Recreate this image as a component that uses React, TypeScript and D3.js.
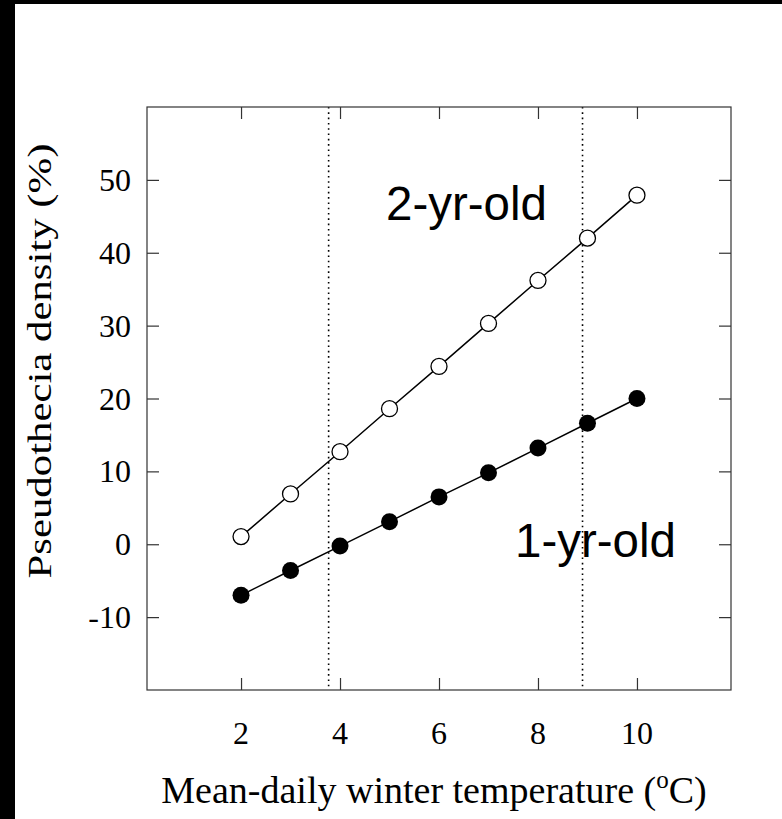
import { useEffect, useRef } from 'react';
import * as d3 from 'd3';

const temps = [2, 3, 4, 5, 6, 7, 8, 9, 10];
const twoYrOld = [1.05, 6.9, 12.7, 18.6, 24.4, 30.3, 36.2, 42.0, 47.9];
const oneYrOld = [-7.0, -3.6, -0.25, 3.1, 6.5, 9.8, 13.2, 16.6, 20.0];
const xTicks = [2, 4, 6, 8, 10];
const yTicks = [-10, 0, 10, 20, 30, 40, 50];
const cutoffs = [3.77, 8.9];

const W = 782;
const H = 819;

export default function App() {
  const svgRef = useRef<SVGSVGElement>(null);

  useEffect(() => {
    if (!svgRef.current) return;
    const svg = d3.select(svgRef.current);
    svg.selectAll('*').remove();

    const margin = { top: 107, right: 51, bottom: 129, left: 147 };
    const width = W - margin.left - margin.right;
    const height = H - margin.top - margin.bottom;

    // black strips from the scan edge
    svg.append('rect').attr('x', 0).attr('y', 0).attr('width', W).attr('height', H).attr('fill', 'white');
    svg.append('rect').attr('x', 0).attr('y', 0).attr('width', 15).attr('height', H).attr('fill', 'black');
    svg.append('rect').attr('x', 0).attr('y', 0).attr('width', W).attr('height', 4).attr('fill', 'black');

    const g = svg.append('g').attr('transform', `translate(${margin.left},${margin.top})`);

    const x = d3.scaleLinear().domain([0.1, 11.9]).range([0, width]);
    const y = d3.scaleLinear().domain([-20, 60]).range([height, 0]);

    const serif = '"Liberation Serif", "Times New Roman", serif';
    const axisColor = '#333';
    const tickLen = 12;

    // cutoff dotted lines
    g.selectAll('.cut')
      .data(cutoffs)
      .join('line')
      .attr('x1', d => x(d)).attr('x2', d => x(d))
      .attr('y1', 0).attr('y2', height)
      .attr('stroke', 'black')
      .attr('stroke-width', 1.6)
      .attr('stroke-dasharray', '1.6 3.7');

    // frame
    g.append('rect')
      .attr('width', width).attr('height', height)
      .attr('fill', 'none').attr('stroke', axisColor).attr('stroke-width', 1.2);

    // inward ticks, all four sides
    const bottom = g.append('g').attr('transform', `translate(0,${height})`)
      .call(d3.axisTop(x).tickValues(xTicks).tickSize(tickLen).tickFormat(() => ''));
    const top = g.append('g')
      .call(d3.axisBottom(x).tickValues(xTicks).tickSize(tickLen).tickFormat(() => ''));
    const left = g.append('g')
      .call(d3.axisRight(y).tickValues(yTicks).tickSize(tickLen).tickFormat(() => ''));
    const right = g.append('g').attr('transform', `translate(${width},0)`)
      .call(d3.axisLeft(y).tickValues(yTicks).tickSize(tickLen).tickFormat(() => ''));
    [bottom, top, left, right].forEach(a => {
      a.select('.domain').remove();
      a.selectAll('.tick line').attr('stroke', axisColor).attr('stroke-width', 1.2);
    });

    // tick labels
    g.selectAll('.xl')
      .data(xTicks)
      .join('text')
      .attr('x', d => x(d))
      .attr('y', height + 54)
      .attr('text-anchor', 'middle')
      .attr('font-family', serif)
      .attr('font-size', 32)
      .text(d => d);

    g.selectAll('.yl')
      .data(yTicks)
      .join('text')
      .attr('x', -16)
      .attr('y', d => y(d) + 11)
      .attr('text-anchor', 'end')
      .attr('font-family', serif)
      .attr('font-size', 32)
      .text(d => d);

    // series
    const line = d3.line<number>().x((_, i) => x(temps[i])).y(d => y(d));

    g.append('path').datum(twoYrOld)
      .attr('fill', 'none').attr('stroke', 'black').attr('stroke-width', 1.5).attr('d', line);
    g.append('path').datum(oneYrOld)
      .attr('fill', 'none').attr('stroke', 'black').attr('stroke-width', 1.5).attr('d', line);

    g.selectAll('.open')
      .data(twoYrOld)
      .join('circle')
      .attr('cx', (_, i) => x(temps[i]))
      .attr('cy', d => y(d))
      .attr('r', 8)
      .attr('fill', 'white')
      .attr('stroke', 'black')
      .attr('stroke-width', 1.3);

    g.selectAll('.filled')
      .data(oneYrOld)
      .join('circle')
      .attr('cx', (_, i) => x(temps[i]))
      .attr('cy', d => y(d))
      .attr('r', 8.5)
      .attr('fill', 'black');

    // series labels
    const sans = '"Liberation Sans", Arial, sans-serif';
    svg.append('text')
      .attr('x', 386).attr('y', 220)
      .attr('font-family', sans).attr('font-size', 47.5)
      .text('2-yr-old');
    svg.append('text')
      .attr('x', 515).attr('y', 557)
      .attr('font-family', sans).attr('font-size', 47.5)
      .text('1-yr-old');

    // axis titles
    const xt = svg.append('text')
      .attr('x', 434)
      .attr('y', 803)
      .attr('text-anchor', 'middle')
      .attr('font-family', serif)
      .attr('font-size', 38);
    xt.append('tspan').text('Mean-daily winter temperature (');
    xt.append('tspan').attr('font-size', 25).attr('dy', -15).text('o');
    xt.append('tspan').attr('dy', 15).text('C)');

    svg.append('text')
      .attr('transform', `translate(51,361) rotate(-90)`)
      .attr('text-anchor', 'middle')
      .attr('font-family', serif)
      .attr('font-size', 33)
      .attr('textLength', 435)
      .attr('lengthAdjust', 'spacingAndGlyphs')
      .text('Pseudothecia density (%)');
  }, []);

  return (
    <svg
      ref={svgRef}
      width={W}
      height={H}
      style={{ position: 'fixed', top: 0, left: 0, display: 'block' }}
    />
  );
}
